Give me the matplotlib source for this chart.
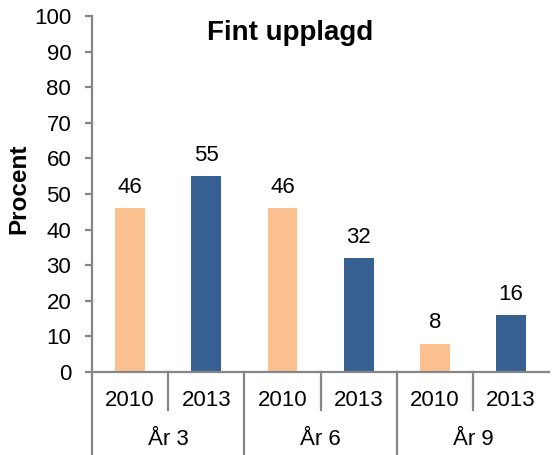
import matplotlib
matplotlib.use("Agg")
import matplotlib.pyplot as plt
import matplotlib.transforms as mtransforms

groups = ["År 3", "År 6", "År 9"]
years = ["2010", "2013"]
values_2010 = [46, 46, 8]
values_2013 = [55, 32, 16]

col_2010 = "#FAC090"
col_2013 = "#376092"
grey = "#868686"

plt.rcParams['font.family'] = ["Liberation Sans", "DejaVu Sans"]
fs = 16

fig = plt.figure(figsize=(5.53, 4.55), dpi=100)
ax = fig.add_axes([0.1664, 0.1824, 0.8266, 0.7824])

xpos, heights, colors, labels = [], [], [], []
for i, g in enumerate(groups):
    xpos += [2 * i, 2 * i + 1]
    heights += [values_2010[i], values_2013[i]]
    colors += [col_2010, col_2013]
    labels += years

bars = ax.bar(xpos, heights, width=0.39, color=colors)
for b, v in zip(bars, heights):
    ax.annotate(str(v), (b.get_x() + b.get_width() / 2, v),
                xytext=(0, 11), textcoords="offset points",
                ha="center", va="baseline", fontsize=fs)

ax.set_xlim(-0.5, 5.5)
ax.set_ylim(0, 100)
ax.set_yticks(range(0, 101, 10))
ax.set_xticks([])
for s in ["top", "right"]:
    ax.spines[s].set_visible(False)
for s in ["left", "bottom"]:
    ax.spines[s].set_color(grey)
    ax.spines[s].set_linewidth(1.6)
ax.tick_params(axis="y", color=grey, width=1.6, length=5, labelsize=fs, pad=10)

ax.text(-0.161, 0.515, "Procent", transform=ax.transAxes, rotation=90,
        ha="center", va="center", fontweight="bold", fontsize=17.5)
ax.text(0.433, 0.952, "Fint upplagd", transform=ax.transAxes,
        ha="center", va="center", fontweight="bold", fontsize=20)

# category axis with two label levels
trans = mtransforms.blended_transform_factory(ax.transData, ax.transAxes)
for x, lab in zip(xpos, labels):
    ax.text(x, -0.079, lab, transform=trans, ha="center", va="center", fontsize=fs)
for i, g in enumerate(groups):
    ax.text(2 * i + 0.5, -0.19, g, transform=trans, ha="center", va="center",
            fontsize=fs)
for x in [0.5, 2.5, 4.5]:
    ax.plot([x, x], [0, -0.107], transform=trans, color=grey, lw=1.6,
            clip_on=False)
for x in [-0.5, 1.5, 3.5]:
    ax.plot([x, x], [0, -0.25], transform=trans, color=grey, lw=1.6,
            clip_on=False)

fig.savefig("out.png", dpi=100)
